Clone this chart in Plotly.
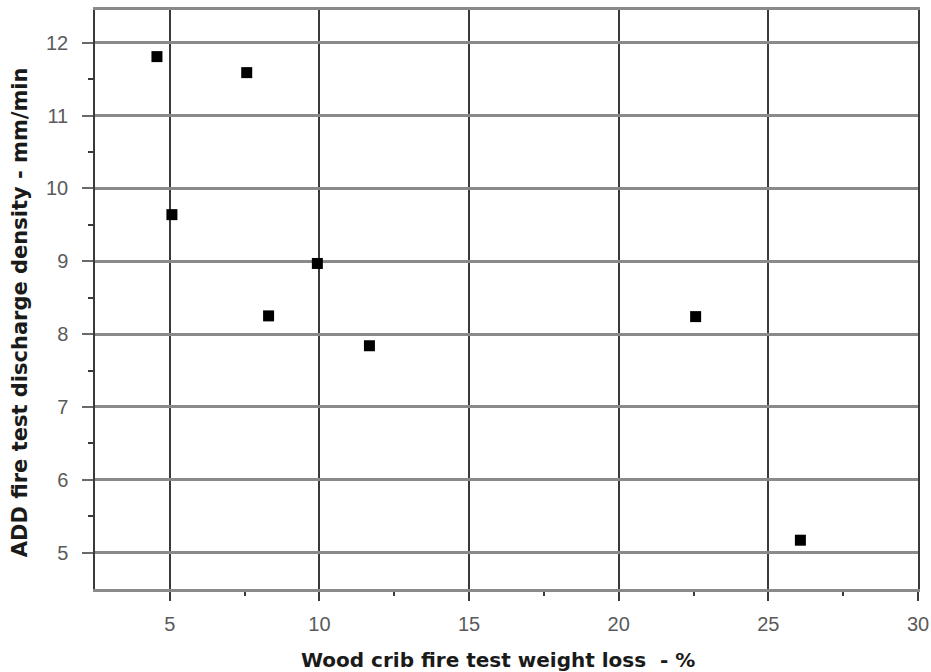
import plotly.graph_objects as go

weight_loss = [4.57, 7.57, 5.07, 9.93, 8.3, 11.67, 22.57, 26.07]
discharge_density = [11.81, 11.59, 9.64, 8.97, 8.25, 7.84, 8.24, 5.17]
x_ticks = [5, 10, 15, 20, 25, 30]
y_ticks = [5, 6, 7, 8, 9, 10, 11, 12]
x_title = "Wood crib fire test weight loss  - %"
y_title = "ADD fire test discharge density - mm/min"

fig = go.Figure()
fig.add_trace(go.Scatter(
    x=weight_loss, y=discharge_density, mode="markers",
    marker=dict(symbol="square", size=11, color="black", line=dict(width=0)),
    showlegend=False,
))

tickfont = dict(family="Liberation Sans, Arial, sans-serif", size=20, color="#5a5a5a")
titlefont = dict(family="DejaVu Sans, Verdana, sans-serif", color="#1a1a1a")

fig.update_layout(
    width=931, height=672,
    margin=dict(l=95, r=13, t=10, b=83),
    paper_bgcolor="white", plot_bgcolor="white",
    xaxis=dict(
        range=[2.5, 30], tickvals=x_ticks, ticktext=[str(v) for v in x_ticks],
        showgrid=True, gridcolor="#3a3a3a", gridwidth=1.5,
        showline=True, linecolor="#8a8a8a", linewidth=3, mirror=True,
        ticks="outside", ticklen=9, tickwidth=1.5, tickcolor="#3a3a3a",
        minor=dict(tickvals=[7.5, 12.5, 17.5, 22.5, 27.5], ticks="outside", ticklen=4,
                   tickwidth=1.5, tickcolor="#3a3a3a", showgrid=False),
        tickfont=tickfont, zeroline=False, ticklabelstandoff=6, automargin=False,
    ),
    yaxis=dict(
        range=[4.5, 12.45], tickvals=y_ticks, ticktext=[str(v) for v in y_ticks],
        showgrid=True, gridcolor="#8a8a8a", gridwidth=3,
        showline=True, linecolor="#3a3a3a", linewidth=1.5, mirror=True,
        ticks="outside", ticklen=11, tickwidth=2, tickcolor="#6a6a6a",
        minor=dict(tickvals=[5.5, 6.5, 7.5, 8.5, 9.5, 10.5, 11.5], ticks="outside", ticklen=5,
                   tickwidth=1.5, tickcolor="#3a3a3a", showgrid=False),
        tickfont=tickfont, zeroline=False, ticklabelstandoff=10, automargin=False,
    ),
    annotations=[
        dict(text="<b>" + x_title + "</b>", xref="paper", yref="paper",
             x=0.4897, y=-0.122, xanchor="center", yanchor="middle",
             showarrow=False, font=dict(size=20, **titlefont)),
        dict(text="<b>" + y_title + "</b>", xref="paper", yref="paper",
             x=-0.0911, y=0.478, xanchor="center", yanchor="middle", textangle=-90,
             showarrow=False, font=dict(size=21, **titlefont)),
    ],
)

fig.write_html(
    "out.html",
    config={"displayModeBar": False},
    post_script="document.body.style.margin='0';document.body.style.overflow='hidden';",
)
